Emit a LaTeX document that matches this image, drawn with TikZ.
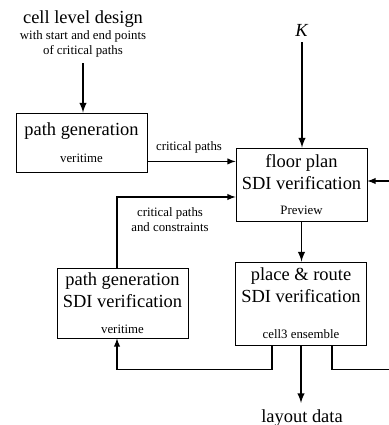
\documentclass[tikz,border=0pt]{standalone}
\usepackage{fontspec}
\setmainfont{Liberation Serif}
\newcommand\bigtxt{\fontsize{10.5}{12.5}\selectfont}
\newcommand\smalltxt{\fontsize{7.3}{8.6}\selectfont}

\begin{document}
\begin{tikzpicture}[x=0.02cm, y=0.02cm,
	box/.style={draw, line width=0.5pt, minimum width=2.62cm, align=center, inner sep=0pt, font=\bigtxt},
	mainflow/.style={line width=0.9pt, arrows={-latex}},
	sideflow/.style={line width=0.6pt, arrows={-latex}},
	note/.style={font=\smalltxt, align=center}]
	\useasboundingbox (0,0) rectangle (388,425);

	\node [align=center, font=\smalltxt] (design) at (83,391) {{\bigtxt cell level design}\\with start and end points\\of critical paths};
	\node (K) at (302,395) {\bigtxt\textit{K}};

	\node [box, minimum height=1.18cm] (pgen) at (81.5,282.5) {path generation\\[3pt]{\smalltxt veritime}};
	\node [box, minimum height=1.46cm] (fplan) at (301.5,240.5) {floor plan\\SDI verification\\[2pt]{\smalltxt Preview}};
	\node [box, minimum height=1.40cm] (psdi) at (122.5,122) {path generation\\SDI verification\\[2pt]{\smalltxt veritime}};
	\node [box, minimum height=1.66cm] (proute) at (301,121.5) {place \& route\\SDI verification\\[8pt]{\smalltxt cell3 ensemble}};

	\node [note] (crit) at (189,278) {critical paths};
	\node [note] (critcon) at (170,205) {critical paths\\and constraints};
	\node [font=\bigtxt, anchor=north] (layout) at (302,22) {layout data};

	\draw [mainflow] (design.south) -- (design.south |- pgen.north);
	\draw [mainflow] (K) -- (K |- fplan.north);
	\draw [sideflow] ([yshift=0.22cm]pgen.south east) coordinate (pout) -- (pout -| fplan.west);
	\draw [mainflow] (fplan.south) -- (fplan.south |- proute.north);
	\draw [mainflow] (proute.south) -- (proute.south |- layout.north);
	% feedback loops
	\draw [sideflow] ([xshift=0.62cm]proute.south) -- ++(0,-24) -- ++(70,0) |- ([yshift=0.07cm]fplan.east);
	\draw [sideflow] ([xshift=-0.58cm]proute.south) -- ++(0,-24) -| ([xshift=-0.11cm]psdi.south);
	\draw [sideflow] ([xshift=-0.11cm]psdi.north) |- ([yshift=-0.25cm]fplan.west);
\end{tikzpicture}
\end{document}
